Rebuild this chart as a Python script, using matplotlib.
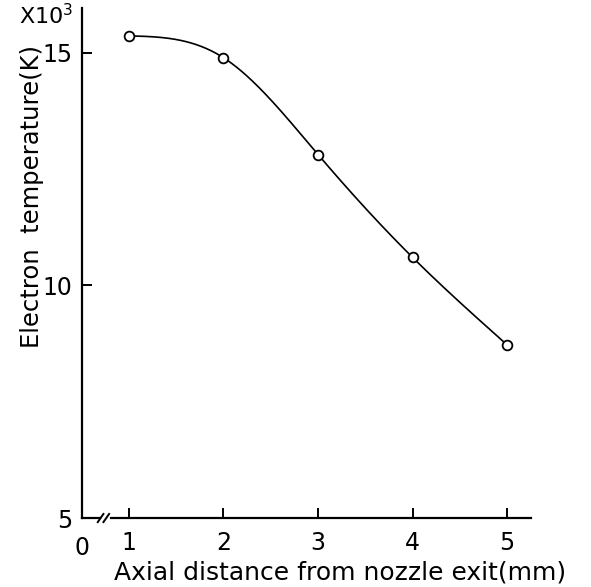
import numpy as np
import matplotlib.pyplot as plt

# axial distance (mm) and electron temperature (x10^3 K)
distance = [1, 2, 3, 4, 5]
temperature = [15.36, 14.89, 12.81, 10.60, 8.72]

x_ticks = [1, 2, 3, 4, 5]
y_ticks = [5, 10, 15]


def natural_spline(x, y, xs):
    x = np.asarray(x, float)
    y = np.asarray(y, float)
    n = len(x)
    h = np.diff(x)
    A = np.zeros((n, n))
    b = np.zeros(n)
    A[0, 0] = A[-1, -1] = 1
    for i in range(1, n - 1):
        A[i, i - 1] = h[i - 1]
        A[i, i] = 2 * (h[i - 1] + h[i])
        A[i, i + 1] = h[i]
        b[i] = 6 * ((y[i + 1] - y[i]) / h[i] - (y[i] - y[i - 1]) / h[i - 1])
    m = np.linalg.solve(A, b)
    out = np.empty_like(xs)
    for k, xv in enumerate(xs):
        i = min(max(np.searchsorted(x, xv) - 1, 0), n - 2)
        t = xv - x[i]
        hi = h[i]
        bb = (y[i + 1] - y[i]) / hi - hi * (2 * m[i] + m[i + 1]) / 6
        out[k] = y[i] + bb * t + m[i] / 2 * t ** 2 + (m[i + 1] - m[i]) / (6 * hi) * t ** 3
    return out


plt.rcParams['font.family'] = 'DejaVu Sans'

fig = plt.figure(figsize=(5.91, 5.87), dpi=100)
ax = fig.add_axes([0.1387, 0.1175, 0.76, 0.869])

xs = np.linspace(distance[0], distance[-1], 300)
ax.plot(xs, natural_spline(distance, temperature, xs), color='black', lw=1.2)
ax.plot(distance, temperature, 'o', mfc='white', mec='black', ms=7, mew=1.3)

ax.set_xlim(0.503, 5.254)
ax.set_ylim(5, 15.96)

ax.spines['top'].set_visible(False)
ax.spines['right'].set_visible(False)
ax.spines['bottom'].set_visible(False)
ax.spines['left'].set_linewidth(1.6)

# broken bottom axis
tr = ax.get_xaxis_transform()
ax.plot([0.503, 0.69], [0, 0], color='black', lw=1.6, transform=tr, clip_on=False)
ax.plot([0.81, 5.254], [0, 0], color='black', lw=1.6, transform=tr, clip_on=False)
for xb in (0.70, 0.76):
    ax.plot([xb - 0.03, xb + 0.03], [-0.008, 0.008], color='black', lw=1.4,
            transform=tr, clip_on=False)

ax.set_xticks(x_ticks)
ax.set_yticks(y_ticks)
ax.tick_params(direction='in', length=7, width=1.4, labelsize=17)
ax.tick_params(axis='x', pad=9)
ax.tick_params(axis='y', pad=7)
ax.text(0.503, -0.036, '0', transform=tr, ha='center', va='top', fontsize=17)

ax.set_xlabel('Axial distance from nozzle exit(mm)', fontsize=18)
ax.xaxis.set_label_coords(0.575, -0.084)
ax.set_ylabel('Electron  temperature(K)', fontsize=17.5)
ax.yaxis.set_label_coords(-0.085, 0.63)
ax.text(-0.02, 1.01, r'X10$^3$', transform=ax.transAxes, ha='right', va='top', fontsize=16)

fig.savefig('out.png', dpi=100)
